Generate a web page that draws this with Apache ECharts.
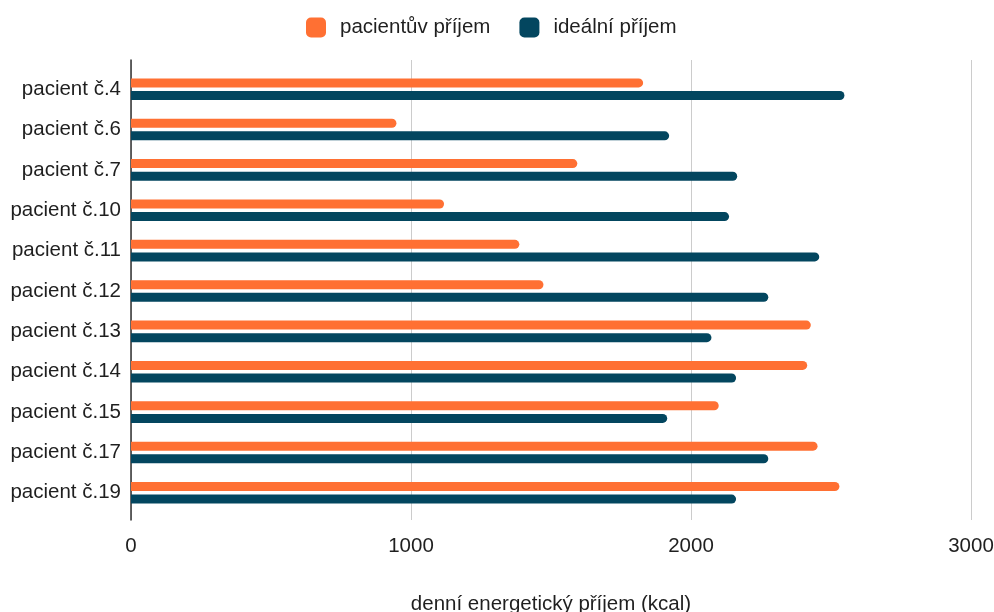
<!DOCTYPE html>
<html>
<head>
<meta charset="utf-8">
<script src="https://cdn.jsdelivr.net/npm/echarts@6/dist/echarts.min.js"></script>
<style>
  html, body { margin: 0; padding: 0; background: #fff; }
  #chart { width: 994px; height: 612px; }
</style>
</head>
<body>
<div id="chart"></div>
<script>
// Patients, top to bottom
const patients = ['pacient č.4', 'pacient č.6', 'pacient č.7', 'pacient č.10', 'pacient č.11',
  'pacient č.12', 'pacient č.13', 'pacient č.14', 'pacient č.15', 'pacient č.17', 'pacient č.19'];
// Daily energy intake (kcal)
const actualIntake = [1829, 948, 1594, 1118, 1387, 1473, 2428, 2415, 2099, 2452, 2530];
const idealIntake  = [2548, 1922, 2165, 2136, 2458, 2276, 2073, 2161, 1915, 2276, 2161];
const seriesNames = ['pacientův příjem', 'ideální příjem'];
const xTicks = { min: 0, max: 3000, interval: 1000 };
const axisTitle = 'denní energetický příjem (kcal)';

const FONT = 'Liberation Sans, Arial, sans-serif';
const FS = 20.5;
const TEXT = '#1f1f1f';
const ORANGE = '#FF7033';
const NAVY = '#03465F';

const chart = echarts.init(document.getElementById('chart'), null, { renderer: 'canvas' });
chart.setOption({
  animation: false,
  textStyle: { fontFamily: FONT },
  legend: {
    top: 12,
    left: 301,
    itemWidth: 20,
    itemHeight: 20,
    itemGap: 29,
    icon: 'roundRect',
    textStyle: { fontSize: FS, color: TEXT, fontFamily: FONT, padding: [0, 0, 0, 9] },
    data: seriesNames
  },
  grid: [
    // frame: gridlines and the vertical axis line
    { left: 131, right: 23, top: 60, bottom: 92, outerBoundsMode: 'none', containLabel: false },
    // bars
    { left: 131, right: 23, top: 69, bottom: 99, outerBoundsMode: 'none', containLabel: false }
  ],
  xAxis: [
    {
      gridIndex: 0, type: 'value', min: xTicks.min, max: xTicks.max, interval: xTicks.interval,
      axisLine: { show: false }, axisTick: { show: false },
      splitLine: { show: true, lineStyle: { color: '#cccccc', width: 1 } },
      axisLabel: { fontSize: FS, color: TEXT, margin: 16, fontFamily: FONT, formatter: v => String(v) },
      name: axisTitle, nameLocation: 'middle', nameGap: 74,
      nameTextStyle: { fontSize: FS, color: TEXT, fontFamily: FONT }
    },
    {
      gridIndex: 1, type: 'value', min: xTicks.min, max: xTicks.max, interval: xTicks.interval,
      show: false
    }
  ],
  yAxis: [
    {
      gridIndex: 0, type: 'value', min: 0, max: 1,
      axisLine: { show: true, lineStyle: { color: '#333', width: 1.5 } },
      axisTick: { show: false }, axisLabel: { show: false }, splitLine: { show: false }
    },
    {
      gridIndex: 1, type: 'category', data: patients, inverse: true,
      axisLine: { show: false }, axisTick: { show: false },
      axisLabel: { fontSize: FS, color: TEXT, margin: 10, fontFamily: FONT }
    }
  ],
  series: [
    {
      name: seriesNames[0], type: 'bar', xAxisIndex: 1, yAxisIndex: 1,
      data: actualIntake, barWidth: 9, barGap: '40%',
      itemStyle: { color: ORANGE, borderRadius: [0, 4.5, 4.5, 0] }
    },
    {
      name: seriesNames[1], type: 'bar', xAxisIndex: 1, yAxisIndex: 1,
      data: idealIntake, barWidth: 9, barGap: '40%',
      itemStyle: { color: NAVY, borderRadius: [0, 4.5, 4.5, 0] }
    }
  ]
});
</script>
</body>
</html>
